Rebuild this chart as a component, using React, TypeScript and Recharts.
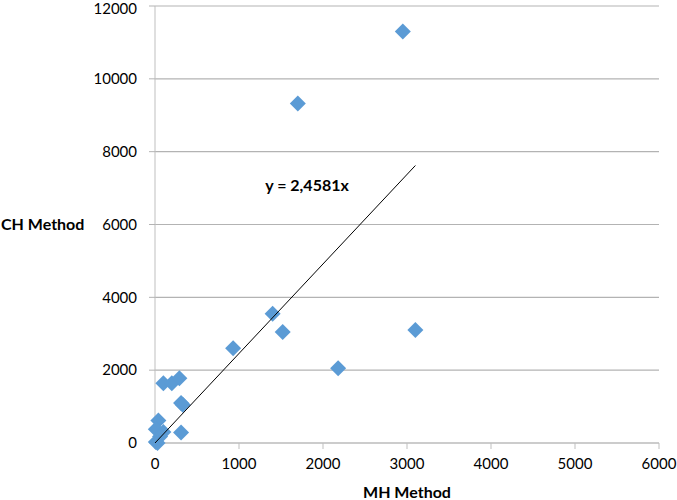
import React from 'react';
import { ScatterChart, Scatter, XAxis, YAxis, CartesianGrid, ReferenceDot } from 'recharts';

const mhValues = [2950, 1700, 1400, 1520, 3100, 2180, 930, 100, 200, 290, 310, 330, 40, 10, 100, 310, 60, 10, 30];
const chValues = [11300, 9320, 3550, 3050, 3100, 2050, 2600, 1640, 1640, 1780, 1100, 1050, 620, 380, 300, 290, 180, 30, 0];
const xTicks = [0, 1000, 2000, 3000, 4000, 5000, 6000];
const yTicks = [0, 2000, 4000, 6000, 8000, 10000, 12000];
const trendX = [0, 3100];
const trendY = [0, 7620];
const equationText = 'y = 2,4581x';
const equationPos = { x: 1810, y: 7078 };

const data = mhValues.map((x, i) => ({ x, y: chValues[i] }));
const trendData = trendX.map((x, i) => ({ x, y: trendY[i] }));

const FONT = 'Lato, "Liberation Sans", sans-serif';

const Diamond = (props: any) => {
  const { cx, cy } = props;
  if (cx == null || cy == null) return null;
  const r = 8;
  return (
    <polygon
      points={`${cx},${cy - r} ${cx + r},${cy} ${cx},${cy + r} ${cx - r},${cy}`}
      fill="#5b9bd5"
    />
  );
};

const NoShape = () => null;

export default function App() {
  return (
    <div style={{ position: 'absolute', left: 0, top: 0, background: '#fff' }}>
      <ScatterChart
        width={677}
        height={500}
        margin={{ top: 6, right: 18, bottom: 0, left: 0 }}
        style={{ fontFamily: FONT }}
      >
        <CartesianGrid horizontal vertical={false} stroke="#b3b3b3" strokeWidth={1.2} />
        <XAxis
          type="number"
          dataKey="x"
          domain={[0, 6000]}
          ticks={xTicks}
          height={57}
          tickSize={6}
          tickMargin={9}
          axisLine={{ stroke: '#bfbfbf' }}
          tickLine={{ stroke: '#bfbfbf' }}
          tick={{ fill: '#000', fontSize: 15, fontFamily: FONT }}
          label={{
            value: 'MH Method',
            position: 'insideBottom',
            offset: 2,
            style: { fill: '#000', fontSize: 16, fontWeight: 'bold', fontFamily: FONT },
          }}
        />
        <YAxis
          type="number"
          dataKey="y"
          domain={[0, 12000]}
          ticks={yTicks}
          width={155}
          tickSize={6}
          tickMargin={12}
          axisLine={{ stroke: '#bfbfbf' }}
          tickLine={{ stroke: '#b3b3b3' }}
          tick={{ fill: '#000', fontSize: 15, fontFamily: FONT }}
          label={{
            value: 'CH Method',
            position: 'insideLeft',
            angle: 0,
            offset: 1,
            style: { fill: '#000', fontSize: 16, fontWeight: 'bold', fontFamily: FONT },
          }}
        />
        <Scatter data={data} shape={<Diamond />} isAnimationActive={false} />
        <Scatter
          data={trendData}
          line={{ stroke: '#000', strokeWidth: 1 }}
          shape={<NoShape />}
          isAnimationActive={false}
        />
        <ReferenceDot
          x={equationPos.x}
          y={equationPos.y}
          r={1}
          fill="none"
          stroke="none"
          label={{
            value: equationText,
            position: 'center',
            style: { fill: '#000', fontSize: 16, fontWeight: 'bold', fontFamily: FONT },
          }}
        />
      </ScatterChart>
    </div>
  );
}
